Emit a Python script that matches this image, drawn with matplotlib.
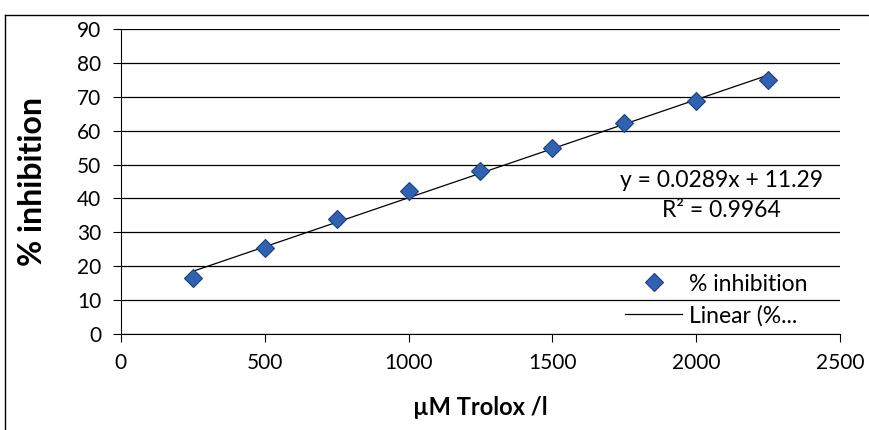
import matplotlib.pyplot as plt
from matplotlib.lines import Line2D
import numpy as np

trolox = [250, 500, 750, 1000, 1250, 1500, 1750, 2000, 2250]
inhibition = [16.5, 25.3, 33.8, 42.2, 48.2, 54.8, 62.3, 68.8, 75.0]

x_ticks = [0, 500, 1000, 1500, 2000, 2500]
y_ticks = [0, 10, 20, 30, 40, 50, 60, 70, 80, 90]

plt.rcParams['font.family'] = ['Lato', 'DejaVu Sans']

fig = plt.figure(figsize=(8.7, 4.3), dpi=100)
ax = fig.add_axes([0.139, 0.2233, 0.8265, 0.7093])

# trendline fitted from the points
slope, intercept = np.polyfit(trolox, inhibition, 1)
xs = np.array([trolox[0], trolox[-1]])
ax.plot(xs, slope * xs + intercept, color='black', lw=0.9, label='Linear (%...', zorder=2)
ax.plot(trolox, inhibition, 'D', ms=9, color='#2f62b0', mec='#1f3f7a', mew=0.8,
        label='% inhibition', zorder=3)

ax.set_xlim(0, 2500)
ax.set_ylim(0, 90)
ax.set_xticks(x_ticks)
ax.set_yticks(y_ticks)
ax.tick_params(labelsize=15, length=6, width=0.8, direction='out', pad=8)
ax.yaxis.grid(True, color='black', lw=0.9)
ax.set_axisbelow(True)
for s in ['top', 'right']:
    ax.spines[s].set_visible(False)
ax.spines['left'].set_linewidth(0.8)
ax.spines['bottom'].set_linewidth(0.8)

ax.set_xlabel('µM Trolox /l', fontsize=17, fontweight='bold', labelpad=16)
ax.set_ylabel('% inhibition', fontsize=23, fontweight='bold', labelpad=22)

ax.text(0.835, 0.504, 'y = 0.0289x + 11.29', transform=ax.transAxes,
        ha='center', va='center', fontsize=16.5)
ax.text(0.835, 0.404, 'R² = 0.9964', transform=ax.transAxes,
        ha='center', va='center', fontsize=16.5)

h, l = ax.get_legend_handles_labels()
leg = ax.legend(h[::-1], l[::-1], loc='lower right', bbox_to_anchor=(0.968, -0.005),
                borderaxespad=0, frameon=False, fontsize=16.5, handlelength=2.5,
                handletextpad=0.3, labelspacing=0.45)

# frame around the figure (top and left visible)
fig.add_artist(Line2D([0.006, 1.0], [0.965, 0.965], color='black', lw=1))
fig.add_artist(Line2D([0.006, 0.006], [0.0, 0.965], color='black', lw=1))

fig.savefig('out.png', dpi=100)
